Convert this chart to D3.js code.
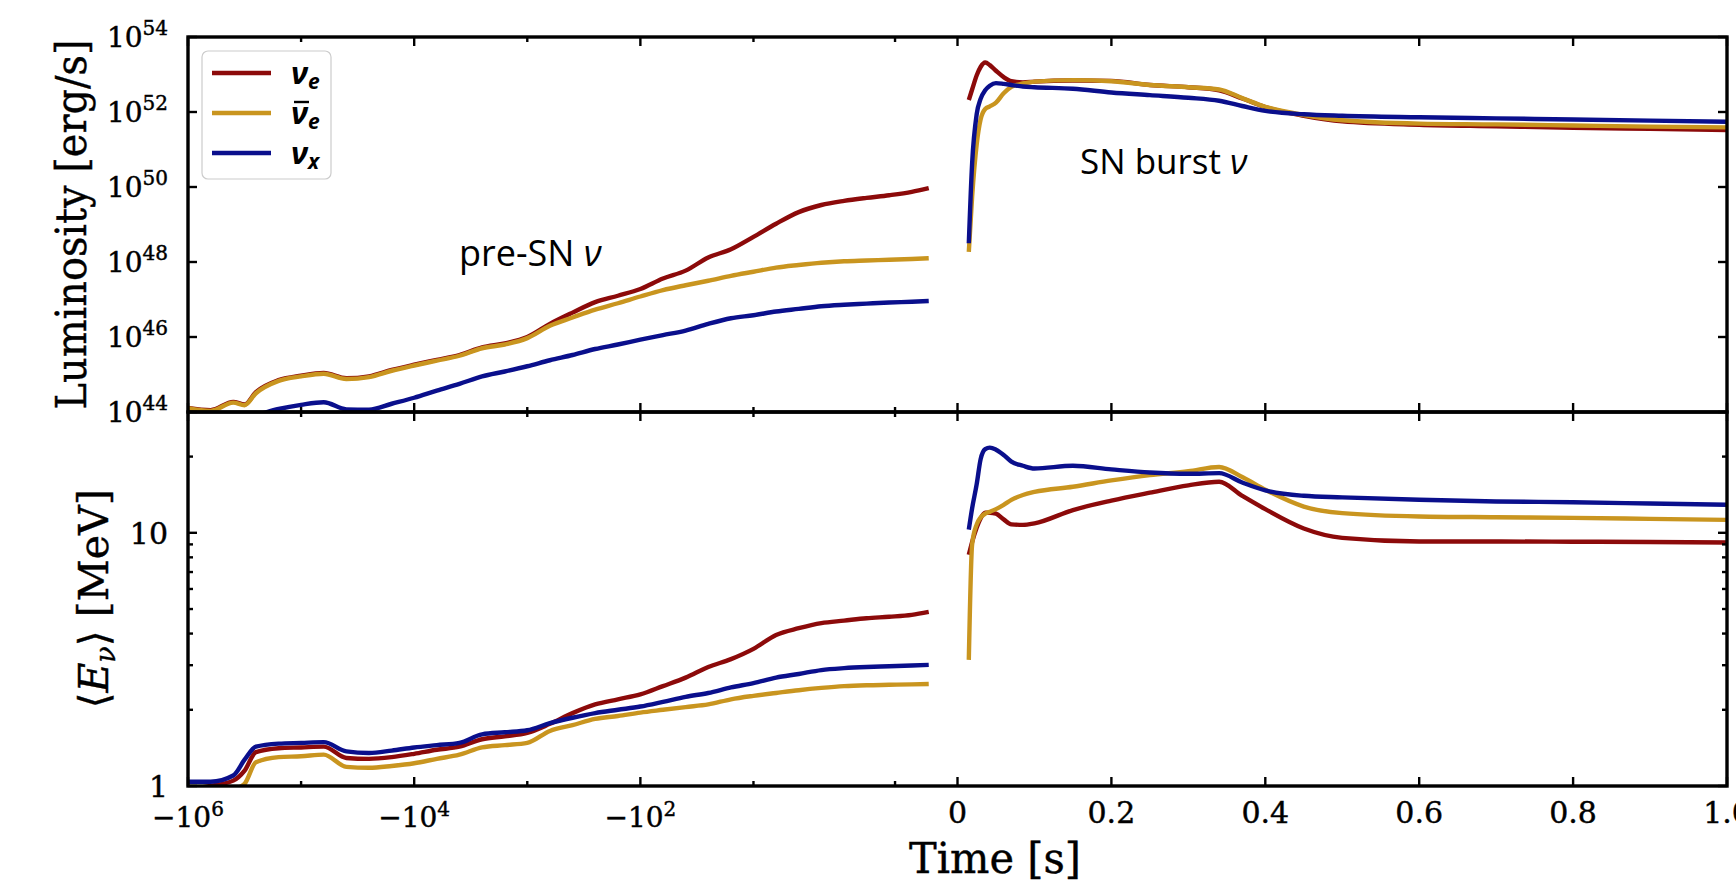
<!DOCTYPE html>
<html><head><meta charset="utf-8">
<script src="https://cdn.jsdelivr.net/npm/d3@7"></script>
<style>body{margin:0;background:#fff}svg{display:block}</style>
</head><body>
<svg id="c" width="1736" height="885"></svg>
<script>
// ---------- data ----------
// pre-supernova phase: time [s] (negative, before collapse)
const preTime = [-1e6,-6.31e5,-3.98e5,-3.16e5,-2.51e5,-1.58e5,-1e5,-6.31e4,-3.98e4,-2.51e4,-1.58e4,-1e4,-6310,-3980,-2510,-1580,-1000,-631,-398,-251,-158,-100,-63.1,-39.8,-25.1,-15.8,-10,-6.31,-3.98,-2.51,-1.58,-1,-0.631,-0.398,-0.282];
// log10 luminosity [erg/s]
const preLumNue   = [44.11,44.05,44.27,44.2,44.53,44.85,44.97,45.04,44.9,44.95,45.12,45.26,45.39,45.52,45.72,45.83,46.0,46.35,46.65,46.93,47.1,47.28,47.56,47.77,48.12,48.34,48.67,49.02,49.33,49.52,49.63,49.71,49.78,49.87,49.97];
const preLumNuebar= [44.1,44.03,44.25,44.18,44.5,44.83,44.95,45.02,44.88,44.93,45.1,45.24,45.37,45.5,45.7,45.8,45.97,46.3,46.52,46.73,46.9,47.08,47.25,47.38,47.5,47.63,47.74,47.85,47.92,47.98,48.02,48.04,48.06,48.08,48.1];
const preLumNux   = [43.6,43.7,43.8,43.85,43.92,44.08,44.19,44.26,44.07,44.06,44.22,44.38,44.57,44.75,44.95,45.08,45.22,45.38,45.52,45.68,45.8,45.93,46.05,46.17,46.35,46.5,46.58,46.68,46.75,46.82,46.86,46.89,46.92,46.94,46.96];
// mean energy [MeV]
const preEnNue    = [0.97,1.0,1.05,1.15,1.36,1.41,1.42,1.43,1.29,1.28,1.3,1.34,1.39,1.43,1.53,1.57,1.62,1.76,1.94,2.1,2.2,2.3,2.48,2.68,2.95,3.17,3.48,3.95,4.2,4.4,4.5,4.6,4.66,4.74,4.87];
const preEnNuebar = [0.93,0.95,0.97,1.02,1.24,1.3,1.31,1.33,1.19,1.18,1.2,1.23,1.28,1.33,1.42,1.45,1.48,1.65,1.74,1.84,1.89,1.95,2.0,2.05,2.1,2.2,2.27,2.33,2.39,2.44,2.48,2.5,2.51,2.52,2.53];
const preEnNux    = [1.04,1.04,1.1,1.27,1.43,1.47,1.48,1.49,1.37,1.35,1.38,1.42,1.45,1.48,1.6,1.63,1.66,1.77,1.86,1.94,2.0,2.06,2.15,2.25,2.33,2.45,2.55,2.68,2.77,2.87,2.92,2.95,2.97,2.99,3.01];

// supernova burst phase: time after bounce [s]
const snTime = [0.0147,0.019,0.025,0.03,0.036,0.042,0.05,0.06,0.07,0.085,0.1,0.15,0.2,0.25,0.3,0.34,0.37,0.4,0.45,0.5,0.6,0.7,0.8,0.9,1.0];
const snLumNue    = [52.32,52.6,52.98,53.2,53.32,53.25,53.1,52.93,52.82,52.79,52.81,52.84,52.83,52.72,52.66,52.58,52.36,52.13,51.9,51.75,51.66,51.62,51.58,51.55,51.52];
const snLumNuebar = [48.27,49.74,51.15,51.8,52.08,52.15,52.25,52.5,52.67,52.76,52.81,52.85,52.82,52.72,52.66,52.6,52.37,52.14,51.92,51.78,51.69,51.67,51.64,51.61,51.59];
const snLumNux    = [48.5,50.63,51.95,52.35,52.58,52.7,52.77,52.75,52.72,52.68,52.66,52.62,52.52,52.45,52.38,52.3,52.16,52.03,51.94,51.9,51.86,51.83,51.8,51.77,51.74];
const snEnNue     = [8.19,9.2,10.5,11.4,12.0,12.0,11.9,11.3,10.8,10.75,10.9,12.3,13.4,14.4,15.4,15.9,14.0,12.4,10.4,9.55,9.24,9.24,9.22,9.2,9.16];
const snEnNuebar  = [3.15,9.0,10.8,11.5,11.9,12.1,12.4,12.9,13.5,14.1,14.5,15.2,16.1,16.9,17.5,18.2,16.6,14.8,12.7,11.96,11.6,11.52,11.45,11.35,11.25];
const snEnNux     = [10.3,12.5,15.6,19.5,21.4,21.7,21.3,20.3,19.1,18.4,17.95,18.4,17.8,17.3,17.1,17.2,15.8,14.7,14.0,13.8,13.5,13.3,13.2,13.05,12.9];

// axis ticks
const xMajorPre = [-1e6,-1e4,-1e2];
const xMinorPre = [-1e5,-1e3,-1e1,-0.56];
const xMajorSN  = [0,0.2,0.4,0.6,0.8,1.0];
const lumTicks  = [1e44,1e46,1e48,1e50,1e52,1e54];
const enMajor   = [1,10];
const enMinor   = [2,3,4,5,6,7,8,9,20];

// ---------- layout ----------
const L=188, R=1727, M=(L+R)/2, T1=37, B1=412, T2=412, B2=786;
const svg = d3.select('#c');
const xPre = d3.scaleLog().domain([1e6,0.157]).range([L,M]);
const xSN  = d3.scaleLinear().domain([0,1]).range([M,R]);
const X = t => t<0 ? xPre(-t) : xSN(t);
const yLum = d3.scaleLog().domain([1e44,1e54]).range([B1,T1]);
const yEn  = d3.scaleLog().domain([1,30]).range([B2,T2]);

const colors = {nue:'#8c0a0a', nuebar:'#c9951f', nux:'#0a0f8c'};
const series = [
  {key:'nue',   preL:preLumNue,   snL:snLumNue,   preE:preEnNue,   snE:snEnNue},
  {key:'nuebar',preL:preLumNuebar,snL:snLumNuebar,preE:preEnNuebar,snE:snEnNuebar},
  {key:'nux',   preL:preLumNux,   snL:snLumNux,   preE:preEnNux,   snE:snEnNux}
];

const defs = svg.append('defs');
defs.append('clipPath').attr('id','cp1').append('rect').attr('x',L).attr('y',T1).attr('width',R-L).attr('height',B1-T1);
defs.append('clipPath').attr('id','cp2').append('rect').attr('x',L).attr('y',T2).attr('width',R-L).attr('height',B2-T2);

const lineL = d3.line().x(d=>X(d[0])).y(d=>yLum(Math.pow(10,d[1]))).curve(d3.curveMonotoneX);
const lineE = d3.line().x(d=>X(d[0])).y(d=>yEn(d[1])).curve(d3.curveMonotoneX);

const g1 = svg.append('g').attr('clip-path','url(#cp1)');
const g2 = svg.append('g').attr('clip-path','url(#cp2)');
series.forEach(s=>{
  [[preTime,s.preL],[snTime,s.snL]].forEach(([t,v])=>{
    g1.append('path').attr('d',lineL(d3.zip(t,v))).attr('fill','none')
      .attr('stroke',colors[s.key]).attr('stroke-width',4.4).attr('stroke-linejoin','round');
  });
  [[preTime,s.preE],[snTime,s.snE]].forEach(([t,v])=>{
    g2.append('path').attr('d',lineE(d3.zip(t,v))).attr('fill','none')
      .attr('stroke',colors[s.key]).attr('stroke-width',4.4).attr('stroke-linejoin','round');
  });
});

// ---------- spines & ticks ----------
const ax = svg.append('g').attr('stroke','#000');
function tick(x1,y1,x2,y2){ax.append('line').attr('x1',x1).attr('y1',y1).attr('x2',x2).attr('y2',y2).attr('stroke-width',2.4);}
const MAJ=9, MIN=5;
[[T1,B1],[T2,B2]].forEach(([top,bot])=>{
  xMajorPre.forEach(v=>{const x=X(v);tick(x,top,x,top+MAJ);tick(x,bot,x,bot-MAJ);});
  xMinorPre.forEach(v=>{const x=X(v);tick(x,top,x,top+MIN);tick(x,bot,x,bot-MIN);});
  xMajorSN.forEach(v=>{const x=X(v);tick(x,top,x,top+MAJ);tick(x,bot,x,bot-MAJ);});
});
lumTicks.forEach(v=>{const y=yLum(v);tick(L,y,L+MAJ,y);tick(R,y,R-MAJ,y);});
enMajor.forEach(v=>{const y=yEn(v);tick(L,y,L+MAJ,y);tick(R,y,R-MAJ,y);});
enMinor.forEach(v=>{const y=yEn(v);tick(L,y,L+MIN,y);tick(R,y,R-MIN,y);});
ax.append('rect').attr('x',L).attr('y',T1).attr('width',R-L).attr('height',B1-T1).attr('fill','none').attr('stroke-width',3.4);
ax.append('rect').attr('x',L).attr('y',T2).attr('width',R-L).attr('height',B2-T2).attr('fill','none').attr('stroke-width',3.4);

// ---------- tick labels ----------
const serif = "'DejaVu Serif', serif";
const lab = svg.append('g').attr('font-family',serif).attr('fill','#000')
  .attr('stroke','#000').attr('stroke-width',0.45);
xMajorPre.forEach(v=>{
  const t = lab.append('text').attr('x',X(v)).attr('y',827).attr('text-anchor','middle').attr('font-size',28);
  t.append('tspan').text('\u221210');
  t.append('tspan').attr('font-size',20).attr('dy',-11).text(Math.round(Math.log10(-v)));
});
xMajorSN.forEach(v=>{
  lab.append('text').attr('x',X(v)).attr('y',823).attr('text-anchor','middle').attr('font-size',30)
    .text(v===0?'0':v.toFixed(1));
});
lumTicks.forEach(v=>{
  const t = lab.append('text').attr('x',168).attr('y',yLum(v)+10).attr('text-anchor','end').attr('font-size',28);
  t.append('tspan').text('10');
  t.append('tspan').attr('font-size',20).attr('dy',-12).text(Math.round(Math.log10(v)));
});
enMajor.forEach(v=>{
  lab.append('text').attr('x',168).attr('y',yEn(v)+11).attr('text-anchor','end').attr('font-size',30).text(v);
});

// ---------- axis titles ----------
const titles = svg.append('g').attr('font-family',serif).attr('fill','#000').attr('stroke','#000').attr('stroke-width',0.4);
titles.append('text').attr('x',995).attr('y',873).attr('text-anchor','middle')
  .attr('font-size',42).attr('textLength',172).attr('lengthAdjust','spacingAndGlyphs').text('Time [s]');
titles.append('text').attr('transform',`translate(86,${(T1+B1)/2}) rotate(-90)`).attr('text-anchor','middle')
  .attr('font-size',43).attr('textLength',370).attr('lengthAdjust','spacingAndGlyphs').text('Luminosity [erg/s]');
const et = titles.append('text').attr('transform',`translate(108,${(T2+B2)/2}) rotate(-90)`).attr('text-anchor','middle')
  .attr('font-size',41);
et.append('tspan').text('\u27E8');
et.append('tspan').attr('font-style','italic').text('E');
et.append('tspan').attr('font-style','italic').attr('font-size',27).attr('dy',7).text('\u03BD');
et.append('tspan').attr('dy',-7).text('\u27E9 [MeV]');

// ---------- annotations ----------
const sans = "'Open Sans', sans-serif";
const a1 = svg.append('text').attr('x',459).attr('y',266).attr('font-family',sans).attr('font-size',36);
a1.append('tspan').text('pre-SN ');
a1.append('tspan').attr('font-style','italic').text('\u03BD');
const a2 = svg.append('text').attr('x',1080).attr('y',174).attr('font-family',sans).attr('font-size',35);
a2.append('tspan').text('SN burst ');
a2.append('tspan').attr('font-style','italic').text('\u03BD');

// ---------- legend ----------
const legendKeys = ['nue','nuebar','nux'];
const legendSub  = ['e','e','x'];
const lg = svg.append('g');
lg.append('rect').attr('x',202).attr('y',51).attr('width',129).attr('height',128).attr('rx',6)
  .attr('fill','#fff').attr('stroke','#cccccc').attr('stroke-width',1.2);
legendKeys.forEach((k,i)=>{
  const y = 73 + i*40;
  lg.append('line').attr('x1',212).attr('x2',271).attr('y1',y).attr('y2',y).attr('stroke',colors[k]).attr('stroke-width',4.4);
  const t = lg.append('text').attr('x',291).attr('y',y+11).attr('font-family',sans).attr('font-size',31)
    .attr('font-weight','bold').attr('font-style','italic');
  t.append('tspan').text('\u03BD');
  t.append('tspan').attr('font-size',21).attr('dy',5).text(legendSub[i]);
  if (k==='nuebar') {
    lg.append('line').attr('x1',294).attr('x2',309).attr('y1',y-11).attr('y2',y-11)
      .attr('stroke','#000').attr('stroke-width',2.4);
  }
});
</script>
</body></html>
